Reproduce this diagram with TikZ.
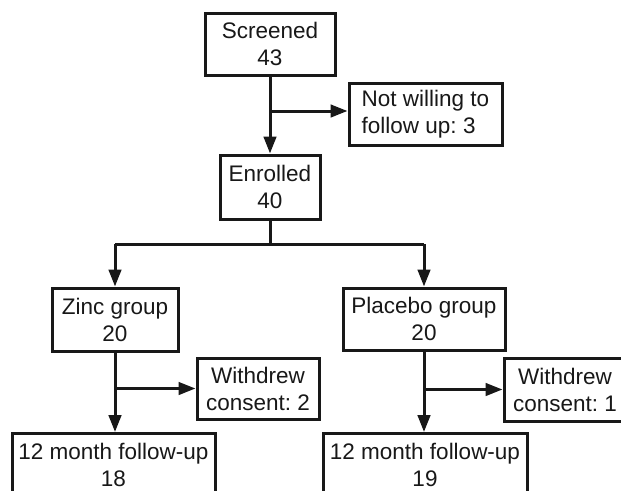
\documentclass[tikz,border=0pt]{standalone}
\usepackage{fontspec}
\setmainfont{Liberation Sans}
\usetikzlibrary{arrows.meta,calc}
\definecolor{ink}{RGB}{24,24,24}
\frenchspacing
\begin{document}
\begin{tikzpicture}[x=1pt,y=-1pt,
  box/.style={draw=ink,line width=3pt,text=ink,inner sep=0pt,align=center,
    font=\fontsize{22.5}{27}\selectfont\frenchspacing},
  arr/.style={draw=ink,line width=3pt,-{Triangle[length=17pt,width=12.5pt]}},
  ln/.style={draw=ink,line width=3pt}]
\useasboundingbox (0,0) rectangle (621,490);
\clip (0,0) rectangle (621,490);
\fill[white] (0,0) rectangle (621,490);
\node[box,minimum width=130pt,minimum height=62pt] (scr) at (270,44) {Screened\\43};
\node[box,minimum width=153pt,minimum height=62pt,align=left] (nw) at (425.5,114) {Not willing to\\follow up: 3};
\node[box,minimum width=100pt,minimum height=64pt] (enr) at (270,187) {Enrolled\\40};
\node[box,minimum width=126pt,minimum height=63pt] (zn) at (115,319.5) {Zinc group\\20};
\node[box,minimum width=162pt,minimum height=62pt] (pl) at (424,319) {Placebo group\\20};
\node[box,minimum width=122pt,minimum height=61pt] (w1) at (258,388.5) {Withdrew\\consent: 2};
\node[box,minimum width=122pt,minimum height=63pt] (w2) at (565,389.5) {Withdrew\\consent: 1};
\node[box,minimum width=203pt,minimum height=63pt,anchor=north] (f1) at (113.5,432) {12 month follow-up\\18};
\node[box,minimum width=204pt,minimum height=63pt,anchor=north] (f2) at (425,432) {12 month follow-up\\19};
\coordinate (j1) at (270,111);
\coordinate (j2) at (270,244);
\draw[arr] (scr.south) -- (enr.north);
\draw[arr] (j1) -- (j1 -| nw.west);
\draw[ln] (enr.south) -- (j2);
\draw[ln] (j2 -| zn.north) -- (j2 -| pl.north);
\draw[arr] (j2 -| zn.north) -- (zn.north);
\draw[arr] (j2 -| pl.north) -- (pl.north);
\draw[arr] (zn.south) -- (zn.south |- f1.north);
\draw[arr] (zn.south |- w1.west) -- (w1.west);
\draw[arr] (pl.south) -- (pl.south |- f2.north);
\draw[arr] (pl.south |- w2.west) -- (w2.west);
\end{tikzpicture}
\end{document}
